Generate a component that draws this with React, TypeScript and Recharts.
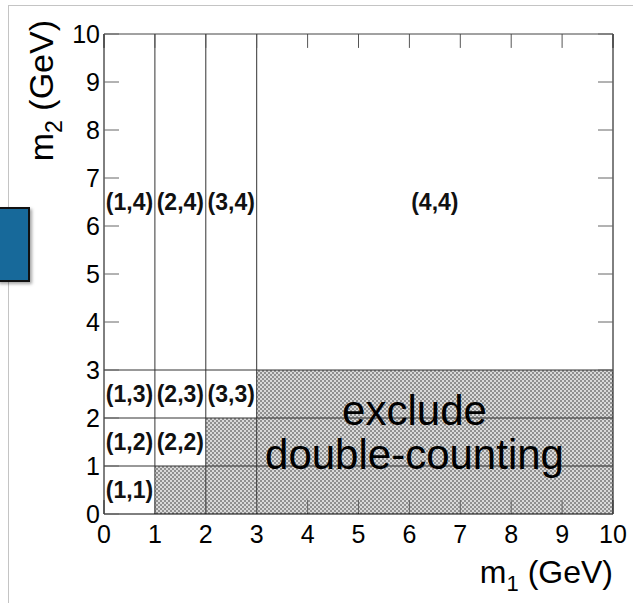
import React from 'react';
import {
  ComposedChart,
  XAxis,
  YAxis,
  Scatter,
  ReferenceArea,
  ReferenceLine,
  Label,
} from 'recharts';

const FONT = '"Liberation Sans", Arial, Helvetica, sans-serif';

// axis ticks, both axes run 0..10 GeV
const axisTicks = [0, 1, 2, 3, 4, 5, 6, 7, 8, 9, 10];

// mass bin boundaries
const gridX = [1, 2, 3];
const gridY = [1, 2, 3];

// hatched (excluded) blocks
const hatchX1 = [1, 2, 3];
const hatchX2 = [2, 3, 10];
const hatchY2 = [1, 2, 3];

// bin labels
const cellLabels = ['(1,1)', '(1,2)', '(1,3)', '(1,4)', '(2,2)', '(2,3)', '(2,4)', '(3,3)', '(3,4)', '(4,4)'];
const cellX = [0.5, 0.5, 0.5, 0.5, 1.5, 1.5, 1.5, 2.5, 2.5, 6.5];
const cellY = [0.5, 1.5, 2.5, 6.5, 1.5, 2.5, 6.5, 2.5, 6.5, 6.5];

// big annotation
const noteText = ['exclude', 'double-counting'];
const noteX = [6.1, 6.1];
const noteY = [1.85, 0.94];

// length of the x ticks, in m2 units (about 14 px)
const xTickLen = 0.29;

const cellData = cellLabels.map((label, i) => ({ x: cellX[i], y: cellY[i], label }));
const noteData = noteText.map((label, i) => ({ x: noteX[i], y: noteY[i], label }));

function CellText(props: any) {
  const { cx, cy, payload } = props;
  return (
    <text
      x={cx}
      y={cy}
      textAnchor="middle"
      dominantBaseline="central"
      fontFamily={FONT}
      fontWeight="bold"
      fontSize={23}
      fill="#111"
    >
      {payload.label}
    </text>
  );
}

function NoteText(props: any) {
  const { cx, cy, payload } = props;
  return (
    <text x={cx} y={cy} textAnchor="middle" fontFamily={FONT} fontSize={42} fill="#000">
      {payload.label}
    </text>
  );
}

function YTitle() {
  return (
    <text
      x={53}
      y={20}
      transform="rotate(-90, 53, 20)"
      textAnchor="end"
      fontFamily={FONT}
      fontSize={34}
      fill="#000"
    >
      m
      <tspan fontSize={23} dy={9}>2</tspan>
      <tspan dy={-9}> (GeV)</tspan>
    </text>
  );
}

function XTitle() {
  return (
    <text x={613} y={583} textAnchor="end" fontFamily={FONT} fontSize={32} fill="#000">
      m
      <tspan fontSize={22} dy={8}>1</tspan>
      <tspan dy={-8}> (GeV)</tspan>
    </text>
  );
}

const tickStyle = { fontFamily: FONT, fontSize: 25, fill: '#000' };
const noLabel = () => <g />;

export default function App() {
  return (
    <div style={{ position: 'absolute', left: 0, top: 0, width: 633, height: 603, background: '#fff' }}>
      {/* slide frame */}
      <div style={{ position: 'absolute', left: 8, right: 0, top: 5, height: 1, background: '#c4c4c4' }} />
      <div style={{ position: 'absolute', left: 8, top: 5, bottom: 0, width: 1, background: '#c4c4c4' }} />
      <div style={{ position: 'absolute', left: 0, top: 0 }}>
        <ComposedChart width={633} height={603} margin={{ top: 34, right: 20, bottom: 0, left: 44 }}>
          <defs>
            <pattern id="hatch" width="4" height="4" patternUnits="userSpaceOnUse">
              <rect width="4" height="4" fill="#dadada" />
              <rect x="0" y="0" width="2" height="2" fill="#909090" />
              <rect x="2" y="2" width="2" height="2" fill="#909090" />
            </pattern>
          </defs>

          <XAxis
            xAxisId={0}
            type="number"
            dataKey="x"
            domain={[0, 10]}
            ticks={axisTicks}
            interval={0}
            allowDataOverflow
            height={89}
            tickLine={false}
            tickSize={0}
            tickMargin={11}
            axisLine={false}
            tick={tickStyle}
          >
            <Label content={<XTitle />} />
          </XAxis>
          <YAxis
            yAxisId={0}
            type="number"
            dataKey="y"
            domain={[0, 10]}
            ticks={axisTicks}
            interval={0}
            allowDataOverflow
            width={60}
            tickLine={false}
            tickSize={0}
            tickMargin={4}
            axisLine={false}
            tick={tickStyle}
          >
            <Label content={<YTitle />} />
          </YAxis>

          {hatchX1.map((x1, i) => (
            <ReferenceArea
              key={`h${i}`}
              x1={x1}
              x2={hatchX2[i]}
              y1={0}
              y2={hatchY2[i]}
              fill="url(#hatch)"
              fillOpacity={1}
              stroke="none"
            />
          ))}

          {gridX.map((x) => (
            <ReferenceLine key={`gx${x}`} x={x} stroke="#333" strokeWidth={1} />
          ))}
          {gridY.map((y) => (
            <ReferenceLine key={`gy${y}`} y={y} stroke="#333" strokeWidth={1} />
          ))}

          {/* x ticks, pointing into the frame from bottom and top */}
          {axisTicks.map((t) => (
            <ReferenceLine
              key={`bt${t}`}
              segment={[{ x: t, y: 0 }, { x: t, y: xTickLen }]}
              stroke="#666"
            />
          ))}
          {axisTicks.map((t) => (
            <ReferenceLine
              key={`tt${t}`}
              segment={[{ x: t, y: 10 }, { x: t, y: 10 - xTickLen }]}
              stroke="#555"
            />
          ))}

          {/* frame and y ticks on both sides */}
          <XAxis xAxisId="bm" type="number" orientation="bottom" mirror domain={[0, 10]} allowDataOverflow
            ticks={axisTicks} interval={0} tick={noLabel} tickLine={false} axisLine={{ stroke: '#000' }} />
          <XAxis xAxisId="tm" type="number" orientation="top" mirror domain={[0, 10]} allowDataOverflow
            ticks={axisTicks} interval={0} tick={noLabel} tickLine={false} axisLine={{ stroke: '#444' }} />
          <YAxis yAxisId="lm" type="number" orientation="left" mirror domain={[0, 10]} allowDataOverflow
            ticks={axisTicks} interval={0} tick={noLabel} tickSize={15}
            tickLine={{ stroke: '#666' }} axisLine={{ stroke: '#000' }} />
          <YAxis yAxisId="rm" type="number" orientation="right" mirror domain={[0, 10]} allowDataOverflow
            ticks={axisTicks} interval={0} tick={noLabel} tickSize={15}
            tickLine={{ stroke: '#666' }} axisLine={{ stroke: '#000' }} />

          <Scatter data={cellData} shape={<CellText />} isAnimationActive={false} />
          <Scatter data={noteData} shape={<NoteText />} isAnimationActive={false} />
        </ComposedChart>
      </div>
      {/* cut-off blue box from the slide */}
      <div
        style={{
          position: 'absolute',
          left: -3,
          top: 207,
          width: 29,
          height: 71,
          background: '#17699a',
          border: '2px solid #111',
          boxShadow: '2px 2px 3px rgba(0,0,0,0.35)',
        }}
      />
    </div>
  );
}
